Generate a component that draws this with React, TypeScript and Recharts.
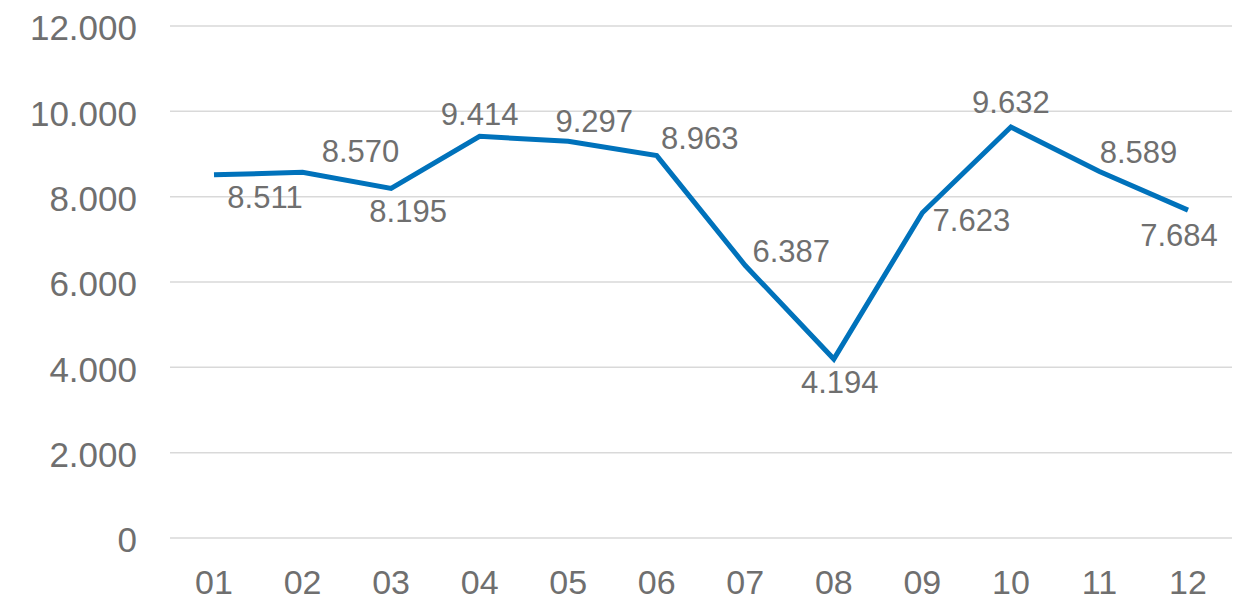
import { CartesianGrid, LabelList, Line, LineChart, XAxis, YAxis } from "recharts";

const months = ["01", "02", "03", "04", "05", "06", "07", "08", "09", "10", "11", "12"];
const values = [8511, 8570, 8195, 9414, 9297, 8963, 6387, 4194, 7623, 9632, 8589, 7684];
const yTicks = [0, 2000, 4000, 6000, 8000, 10000, 12000];

// where each value label sits relative to its point (px)
const labelOffsets: [number, number][] = [
  [51, 23],
  [58, -21],
  [17, 23],
  [0, -22],
  [26, -20],
  [43, -17],
  [46, -14],
  [6, 23],
  [49, 8],
  [0, -25],
  [39, -19],
  [-9, 25],
];

const data = months.map((m, i) => ({ month: m, value: values[i] }));

const TEXT = "#6f6f6f";
const FONT = "'Liberation Sans', Arial, sans-serif";

const fmt = (v: number) => String(v).replace(/\B(?=(\d{3})+(?!\d))/g, ".");

const renderLabel = (props: any) => {
  const { x, y, value, index } = props;
  const [dx, dy] = labelOffsets[index] ?? [0, -20];
  return (
    <text
      x={Number(x) + dx}
      y={Number(y) + dy}
      textAnchor="middle"
      dominantBaseline="central"
      fill={TEXT}
      fontSize={31}
      fontFamily={FONT}
    >
      {fmt(Number(value))}
    </text>
  );
};

export default function App() {
  return (
    <div style={{ position: "absolute", left: 0, top: 0, background: "#fff" }}>
      <LineChart
        width={1245}
        height={602}
        data={data}
        margin={{ top: 26, right: 13, left: 0, bottom: 0 }}
      >
        <CartesianGrid vertical={false} stroke="#d9d9d9" strokeWidth={1.5} />
        <XAxis
          dataKey="month"
          axisLine={false}
          tickLine={false}
          padding={{ left: 44, right: 44 }}
          height={64}
          tickMargin={26}
          interval={0}
          tick={{ fill: TEXT, fontSize: 34, fontFamily: FONT }}
        />
        <YAxis
          domain={[0, 12000]}
          ticks={yTicks}
          tickFormatter={fmt}
          axisLine={false}
          tickLine={false}
          width={170}
          tickMargin={27}
          tick={{ fill: TEXT, fontSize: 35, fontFamily: FONT, dy: 2 }}
        />
        <Line
          type="linear"
          dataKey="value"
          stroke="#0072bb"
          strokeWidth={5}
          dot={false}
          activeDot={false}
          isAnimationActive={false}
        >
          <LabelList dataKey="value" content={renderLabel} />
        </Line>
      </LineChart>
    </div>
  );
}
